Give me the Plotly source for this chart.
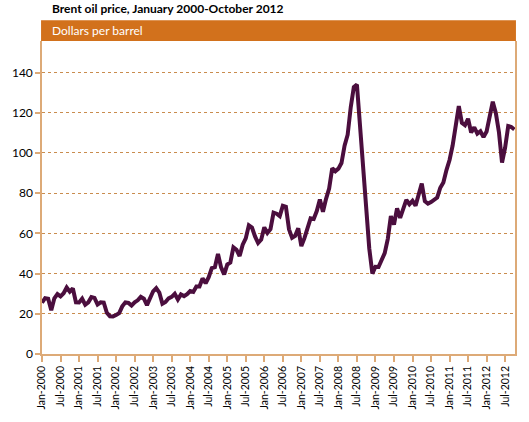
import plotly.graph_objects as go

years = list(range(2000, 2013))
price_2000 = [25.5, 27.8, 27.5, 21.8, 27.7, 29.8, 28.7, 30.2, 33.1, 31.0, 32.6, 25.7]
price_2001 = [25.6, 27.5, 24.5, 25.7, 28.3, 27.9, 24.6, 25.7, 25.6, 20.5, 18.8, 18.7]
price_2002 = [19.4, 20.3, 23.7, 25.7, 25.4, 24.1, 25.7, 26.7, 28.4, 27.5, 24.3, 28.3]
price_2003 = [31.2, 32.8, 30.6, 25.0, 25.9, 27.7, 28.4, 29.9, 27.1, 29.6, 28.8, 29.8]
price_2004 = [31.3, 30.9, 33.6, 33.6, 37.6, 35.2, 38.2, 42.7, 43.2, 49.8, 43.1, 39.6]
price_2005 = [44.5, 45.5, 53.1, 51.9, 48.7, 54.4, 57.5, 64.0, 62.9, 58.5, 55.2, 56.9]
price_2006 = [63.0, 60.2, 62.1, 70.3, 69.8, 68.6, 73.7, 73.2, 62.0, 57.8, 58.8, 62.5]
price_2007 = [53.7, 57.6, 62.1, 67.5, 67.2, 71.1, 76.9, 70.8, 77.2, 82.3, 92.4, 90.9]
price_2008 = [92.2, 95.0, 103.6, 109.1, 122.8, 132.8, 134.0, 113.2, 97.2, 71.6, 52.5, 40.0]
price_2009 = [43.4, 43.3, 46.5, 50.2, 57.3, 68.6, 64.4, 72.5, 67.7, 72.8, 76.7, 74.5]
price_2010 = [76.2, 73.8, 78.8, 84.8, 76.0, 74.8, 75.6, 77.0, 77.8, 82.7, 85.3, 91.5]
price_2011 = [96.5, 103.7, 114.6, 123.3, 115.0, 113.8, 117.0, 110.2, 112.8, 109.6, 110.8, 107.9]
price_2012 = [110.7, 119.3, 125.5, 119.8, 110.3, 95.2, 102.6, 113.4, 112.9, 111.7]

tick_labels = [f"{m}-{y}" for y in years for m in ("Jan", "Jul")]
y_ticks = [0, 20, 40, 60, 80, 100, 120, 140]

prices = (price_2000 + price_2001 + price_2002 + price_2003 + price_2004 + price_2005
          + price_2006 + price_2007 + price_2008 + price_2009 + price_2010 + price_2011
          + price_2012)
months = list(range(len(prices)))
tick_vals = [i * 6 for i in range(len(tick_labels))]

AXIS = "#DDAA77"
GRID = "#C98C4E"
ORANGE = "#D2711C"

fig = go.Figure()
fig.add_trace(go.Scatter(x=months, y=prices, mode="lines",
                         line=dict(color="#4B0E3E", width=4), hoverinfo="skip"))

fig.update_layout(
    width=529, height=422,
    margin=dict(l=40, r=14, t=41, b=64),
    paper_bgcolor="white", plot_bgcolor="white",
    showlegend=False,
    font=dict(family="Lato", size=12, color="black"),
)
fig.update_xaxes(
    range=[0, 153.2], tickvals=tick_vals, ticktext=tick_labels, tickangle=-90,
    showgrid=False, zeroline=False, showline=True, linecolor=AXIS, linewidth=1.5,
    ticks="outside", ticklen=6, tickcolor=AXIS, tickwidth=1.5,
    tickfont=dict(family="Lato", size=10.5, color="black"),
)
fig.update_yaxes(
    range=[0, 155.7], tickvals=y_ticks, showgrid=True, gridcolor=GRID, griddash="dot",
    gridwidth=1, zeroline=False, showline=True, mirror=True, linecolor=AXIS, linewidth=1.5,
    ticks="outside", ticklen=5, tickcolor=AXIS, tickwidth=1.5,
    tickfont=dict(family="Lato", size=12, color="black"),
)

fig.add_shape(type="rect", xref="paper", yref="paper",
              x0=-0.002, x1=1.002, y0=1.0, y1=1.0662,
              fillcolor=ORANGE, line=dict(width=0), layer="above")
fig.add_annotation(xref="paper", yref="paper", x=0.0168, y=1.0347,
                   xanchor="left", yanchor="middle", showarrow=False,
                   text="Dollars per barrel",
                   font=dict(family="Lato", size=12, color="white"))
fig.add_annotation(xref="paper", yref="paper", x=0.0168, y=1.104,
                   xanchor="left", yanchor="middle", showarrow=False,
                   text="<b>Brent oil price, January 2000-October 2012</b>",
                   font=dict(family="Lato", size=12, color="black"))

fig.write_html("out.html")
